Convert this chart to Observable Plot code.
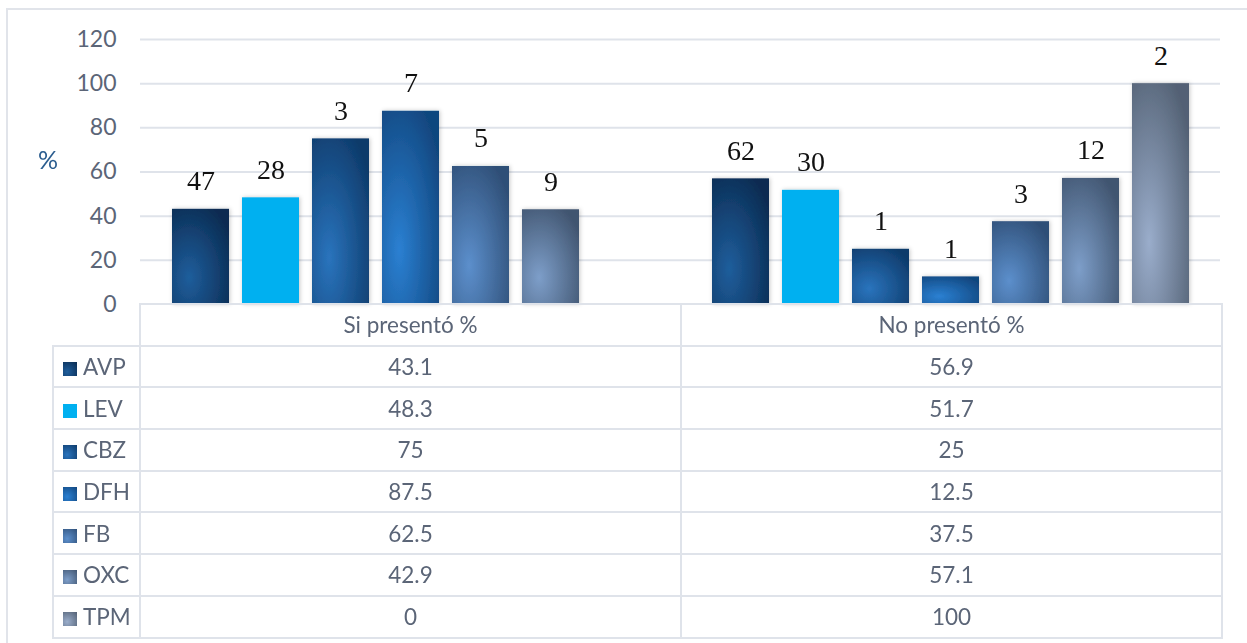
<!DOCTYPE html>
<html>
<head>
<meta charset="utf-8">
<script src="https://cdn.jsdelivr.net/npm/d3@7"></script>
<script src="https://cdn.jsdelivr.net/npm/@observablehq/plot@0.6"></script>
<style>
  body { margin: 0; background: #fff; font-family: Lato, "Open Sans", sans-serif; }
  #chart { position: relative; width: 1247px; height: 643px; overflow: hidden; }
  #frame { position: absolute; left: 6px; top: 8px; width: 1400px; height: 800px;
           border-left: 2px solid #e1e4ea; border-top: 2px solid #e1e4ea; }
  #plot { position: absolute; left: 0; top: 0; }
  #unit { position: absolute; left: 38px; top: 144px; font-size: 25px; color: #2b5d8f; }
  #datatable { position: absolute; left: 52px; top: 303px; border-collapse: collapse;
               table-layout: fixed; width: 1169px; }
  #datatable td { border: 2px solid #dfe3ea; padding: 0; text-align: center;
                  color: #5b6577; font-size: 22.5px; height: 39.7px; }
  #datatable td.corner { border-top: none; border-left: none; }
  #datatable td.key { text-align: left; padding-left: 9px; white-space: nowrap; }
  .swatch { display: inline-block; width: 14px; height: 14px; margin-right: 6px; vertical-align: -1px; }
</style>
</head>
<body>
<div id="chart">
  <div id="frame"></div>
  <div id="plot"></div>
  <div id="unit"></div>
  <table id="datatable"></table>
</div>
<script>
// Groups (table columns) and drugs (series)
const groups = ["Si presentó %", "No presentó %"];
const drugs = ["AVP", "LEV", "CBZ", "DFH", "FB", "OXC", "TPM"];

// Percentages per drug, one list per group
const siPct = [43.1, 48.3, 75, 87.5, 62.5, 42.9, 0];
const noPct = [56.9, 51.7, 25, 12.5, 37.5, 57.1, 100];

// Patient counts written above the bars
const siCount = [47, 28, 3, 7, 5, 9, null];
const noCount = [62, 30, 1, 1, 3, 12, 2];

// Value axis
const yTicks = [0, 20, 40, 60, 80, 100, 120];
const yUnit = "%";

// Fill shades per drug: bright centre and dark rim of each bar
const lightShade = ["#1f5e9c", "#00b0f0", "#2a74bd", "#2b80d2", "#5c8fcc", "#7d9ec9", "#9aadcb"];
const darkShade  = ["#0a2b51", "#00b0f0", "#0e3b6b", "#11467e", "#2f4f77", "#415570", "#536174"];

const pctByGroup = [siPct, noPct];
const countByGroup = [siCount, noCount];
const rows = groups.flatMap((g, gi) =>
  drugs.map((d, i) => ({ group: g, drug: d, value: pctByGroup[gi][i], count: countByGroup[gi][i] }))
);

const svg = Plot.plot({
  width: 1247,
  height: 320,
  marginLeft: 139,
  marginRight: 27,
  marginTop: 39,
  marginBottom: 16,
  style: { fontFamily: "Lato, 'Open Sans', sans-serif", background: "transparent" },
  fx: { domain: groups, padding: 0, axis: null },
  x: { domain: drugs, paddingInner: 0.19, paddingOuter: 0.41, axis: null },
  y: { domain: [0, 120], axis: null },
  color: { domain: drugs, range: drugs.map((d, i) => `url(#bar-fill-${i})`) },
  marks: [
    Plot.ruleY(yTicks.filter((t) => t > 0), { stroke: "#dfe3ea", strokeWidth: 2 }),
    Plot.axisY(yTicks, { tickSize: 0, tickPadding: 24, fontSize: 23, fill: "#5b6577", label: null }),
    Plot.barY(rows, { fx: "group", x: "drug", y: "value", fill: "drug" }),
    Plot.text(rows.filter((d) => d.count != null), {
      fx: "group", x: "drug", y: "value", text: "count",
      lineAnchor: "bottom", dy: -19,
      fontFamily: "'Liberation Serif', serif", fontSize: 28, fill: "#111"
    })
  ]
});

// Gradients and a soft shadow for the bars
const defs = d3.select(svg).insert("defs", ":first-child");
drugs.forEach((d, i) => {
  const g = defs.append("radialGradient")
    .attr("id", `bar-fill-${i}`)
    .attr("cx", 0.3).attr("cy", 0.72).attr("r", 0.85);
  g.append("stop").attr("offset", 0).attr("stop-color", lightShade[i]);
  g.append("stop").attr("offset", 1).attr("stop-color", darkShade[i]);
});
const shadow = defs.append("filter").attr("id", "bar-shadow")
  .attr("x", "-30%").attr("y", "-10%").attr("width", "160%").attr("height", "120%");
shadow.append("feDropShadow").attr("dx", 1).attr("dy", 0).attr("stdDeviation", 2)
  .attr("flood-color", "#000").attr("flood-opacity", 0.22);
d3.select(svg).selectAll('g[aria-label="bar"]').attr("filter", "url(#bar-shadow)");

document.getElementById("plot").append(svg);
document.getElementById("unit").textContent = yUnit;

// Data table under the chart
const table = d3.select("#datatable");
const cg = table.append("colgroup");
cg.append("col").style("width", "87px");
cg.append("col").style("width", "541px");
cg.append("col").style("width", "541px");
const body = table.append("tbody");
const head = body.append("tr");
head.append("td").attr("class", "corner");
groups.forEach((g) => head.append("td").text(g));
drugs.forEach((d, i) => {
  const tr = body.append("tr");
  const key = tr.append("td").attr("class", "key");
  key.append("span").attr("class", "swatch")
    .style("background", `radial-gradient(circle at 30% 70%, ${lightShade[i]}, ${darkShade[i]})`);
  key.append("span").text(d);
  tr.append("td").text(siPct[i]);
  tr.append("td").text(noPct[i]);
});
</script>
</body>
</html>
